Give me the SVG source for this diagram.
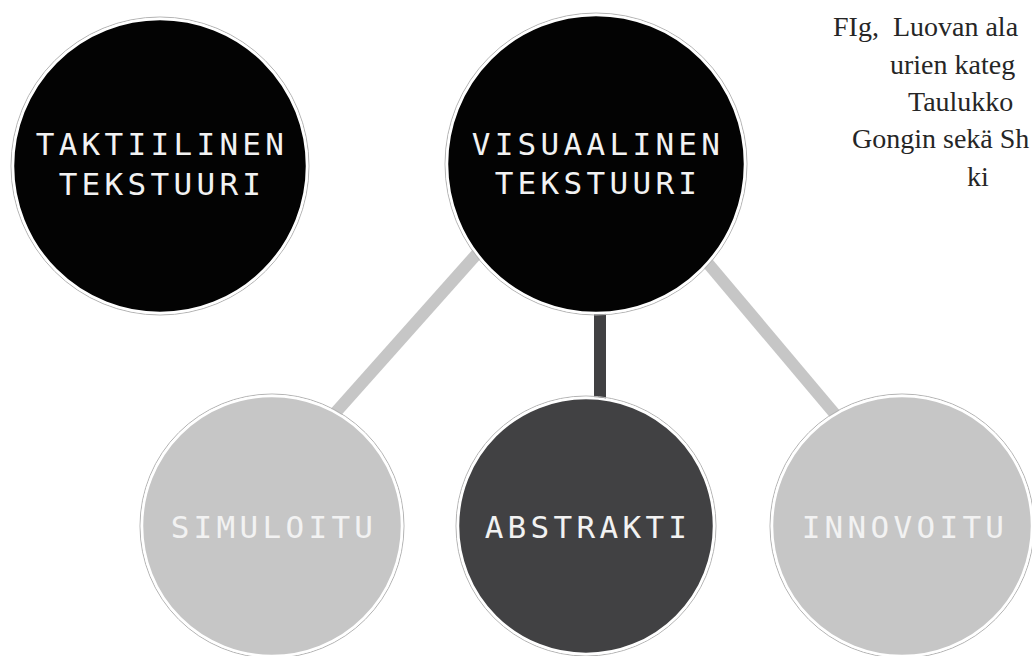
<svg xmlns="http://www.w3.org/2000/svg" width="1032" height="656" viewBox="0 0 1032 656">
<style>
.bg{fill:#ffffff}
.ring{fill:none;stroke:#b4b4b4;stroke-width:1}
.black{fill:#030303;stroke:#ffffff;stroke-width:2.5}
.dark{fill:#414143;stroke:#ffffff;stroke-width:2.5}
.light{fill:#c6c6c6;stroke:#ffffff;stroke-width:2.5}
.lbl{font-family:"DejaVu Sans Mono","Liberation Mono",monospace;font-size:31px;letter-spacing:4.3px;fill:#f2f2f2;text-anchor:middle}
.cap{font-family:"Liberation Serif","DejaVu Serif",serif;font-size:28px;fill:#262626;white-space:pre}
.cl{stroke:#c6c6c6;stroke-width:12;stroke-linecap:butt}
.cd{stroke:#414143;stroke-width:12;stroke-linecap:butt}
</style>
<rect class="bg" x="0" y="0" width="1032" height="656"/>
<g id="caption">
<text class="cap" x="833" y="36" xml:space="preserve">FIg,  Luovan ala</text>
<text class="cap" x="890" y="74">urien kateg</text>
<text class="cap" x="908" y="111">Taulukko</text>
<text class="cap" x="852" y="148">Gongin sekä Sh</text>
<text class="cap" x="967" y="186">ki</text>
</g>
<g id="connectors">
<line class="cl" x1="491" y1="238" x2="320" y2="430"/>
<line class="cd" x1="600" y1="300" x2="600" y2="410"/>
<line class="cl" x1="700" y1="254" x2="845" y2="426"/>
</g>
<g id="taktiilinen">
<circle class="ring" cx="160" cy="166" r="149"/>
<circle class="black" cx="160" cy="166" r="147"/>
<text class="lbl" x="162" y="155">TAKTIILINEN</text>
<text class="lbl" x="162" y="195">TEKSTUURI</text>
</g>
<g id="visuaalinen">
<circle class="ring" cx="596" cy="164" r="151"/>
<circle class="black" cx="596" cy="164" r="149"/>
<text class="lbl" x="598" y="155">VISUAALINEN</text>
<text class="lbl" x="598" y="194">TEKSTUURI</text>
</g>
<g id="simuloitu">
<circle class="ring" cx="272" cy="526" r="132"/>
<circle class="light" cx="272" cy="526" r="130"/>
<text class="lbl" x="274" y="538">SIMULOITU</text>
</g>
<g id="abstrakti">
<circle class="ring" cx="586" cy="526" r="130"/>
<circle class="dark" cx="586" cy="526" r="128"/>
<text class="lbl" x="588" y="538">ABSTRAKTI</text>
</g>
<g id="innovoitu">
<circle class="ring" cx="902" cy="526" r="132"/>
<circle class="light" cx="902" cy="526" r="130"/>
<text class="lbl" x="905" y="538">INNOVOITU</text>
</g>
</svg>
